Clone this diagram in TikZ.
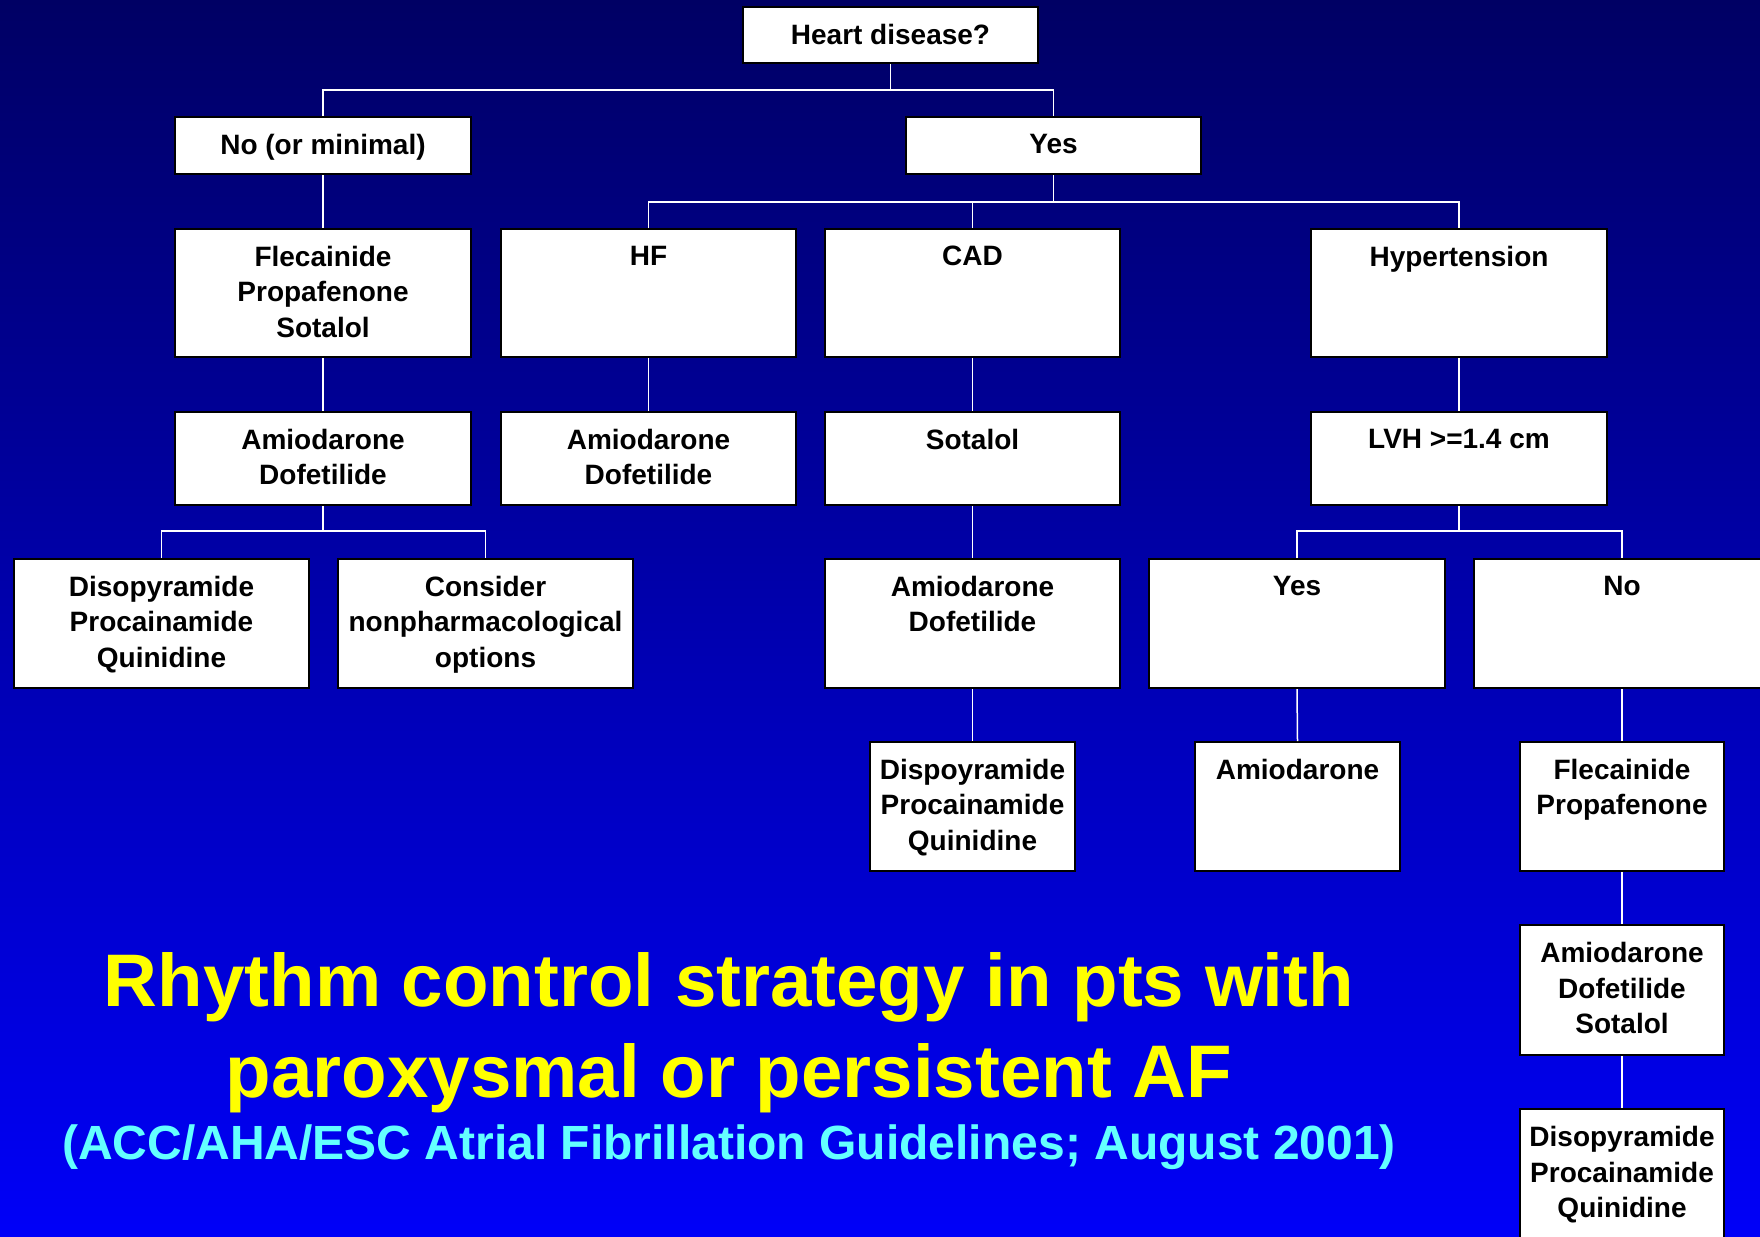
\documentclass[tikz,border=0pt]{standalone}
\usepackage{fontspec}
\setmainfont{Liberation Sans}
\usetikzlibrary{calc}
\definecolor{navytop}{RGB}{0,0,100}
\definecolor{bluebot}{RGB}{0,0,248}
\definecolor{titleyellow}{RGB}{255,255,0}
\definecolor{subcyan}{RGB}{100,255,255}
\newcommand\bx[6]{%
  \node[box, minimum width={#4-#2}, minimum height={#5-#3}] (#1) at ({(#2+#4)/2},{(#3+#5)/2}) {};
  \node[txt, anchor=north] (#1t) at ($(#1.north)+(0,17.7)$) {\rule{0pt}{20pt}#6};}
\begin{document}
\begin{tikzpicture}[x=1pt,y=-1pt,
  box/.style={draw=black, line width=2pt, fill=white, inner sep=0pt, rectangle},
  txt/.style={font=\bfseries\fontsize{28}{35.8}\selectfont, align=center, inner sep=0pt, text=black},
  conn/.style={draw=white, line width=1.5pt}]
\useasboundingbox (0,0) rectangle (1760,1236);
\clip (0,0) rectangle (1760,1236);
\shade[top color=navytop, bottom color=bluebot] (0,0) rectangle (1760,1236);
% boxes
\bx{heart}{743}{7}{1038}{63}{Heart disease?}
\bx{no}{175}{117}{471}{174}{No (or minimal)}
\bx{yes}{906}{117}{1201}{174}{Yes}
\bx{flec}{175}{229}{471}{357}{Flecainide\\Propafenone\\Sotalol}
\bx{hf}{501}{229}{796}{357}{HF}
\bx{cad}{825}{229}{1120}{357}{CAD}
\bx{hyp}{1311}{229}{1607}{357}{Hypertension}
\bx{amioL}{175}{412}{471}{505}{Amiodarone\\Dofetilide}
\bx{amioH}{501}{412}{796}{505}{Amiodarone\\Dofetilide}
\bx{sot}{825}{412}{1120}{505}{Sotalol}
\bx{lvh}{1311}{412}{1607}{505}{LVH >=1.4 cm}
\bx{disoL}{14}{559}{309}{688}{Disopyramide\\Procainamide\\Quinidine}
\bx{cons}{338}{559}{633}{688}{Consider\\nonpharmacological\\options}
\bx{amioC}{825}{559}{1120}{688}{Amiodarone\\Dofetilide}
\bx{yesB}{1149}{559}{1445}{688}{Yes}
\bx{noB}{1474}{559}{1770}{688}{No}
\bx{disoC}{870}{742}{1075}{871}{Dispoyramide\\Procainamide\\Quinidine}
\bx{amioY}{1195}{742}{1400}{871}{Amiodarone}
\bx{flecR}{1520}{742}{1724}{871}{Flecainide\\Propafenone}
\bx{amioR}{1520}{925}{1724}{1055}{Amiodarone\\Dofetilide\\Sotalol}
\bx{disoR}{1520}{1109}{1724}{1245}{Disopyramide\\Procainamide\\Quinidine}
% connectors
\draw[conn] (heart.south) -- (heart.south |- 0,90);
\draw[conn] (no.north) |- (yes.north |- 0,90) -- (yes.north);
\draw[conn] (no.south) -- (flec.north);
\draw[conn] (yes.south) -- (yes.south |- 0,202);
\draw[conn] (hf.north) |- (hyp.north |- 0,202) -- (hyp.north);
\draw[conn] (cad.north) -- (cad.north |- 0,202);
\draw[conn] (flec.south) -- (amioL.north);
\draw[conn] (hf.south) -- (amioH.north);
\draw[conn] (cad.south) -- (sot.north);
\draw[conn] (hyp.south) -- (lvh.north);
\draw[conn] (amioL.south) -- (amioL.south |- 0,531);
\draw[conn] (disoL.north) |- (cons.north |- 0,531) -- (cons.north);
\draw[conn] (sot.south) -- (amioC.north);
\draw[conn] (lvh.south) -- (lvh.south |- 0,531);
\draw[conn] (yesB.north) |- (noB.north |- 0,531) -- (noB.north);
\draw[conn] (amioC.south) -- (disoC.north);
\draw[conn] (yesB.south) -- (amioY.north);
\draw[conn] (noB.south) -- (flecR.north);
\draw[conn] (flecR.south) -- (amioR.north);
\draw[conn] (amioR.south) -- (disoR.north);
% title
\node[font=\bfseries\fontsize{74.5}{91}\selectfont, text=titleyellow, align=center, anchor=base, inner sep=0pt] (title) at (729,1097) {Rhythm control strategy in pts with\\paroxysmal or persistent AF};
\node[font=\bfseries\fontsize{48}{55}\selectfont, text=subcyan, anchor=base, inner sep=0pt] (sub) at (729,1159) {(ACC/AHA/ESC Atrial Fibrillation Guidelines; August 2001)};
\end{tikzpicture}
\end{document}
